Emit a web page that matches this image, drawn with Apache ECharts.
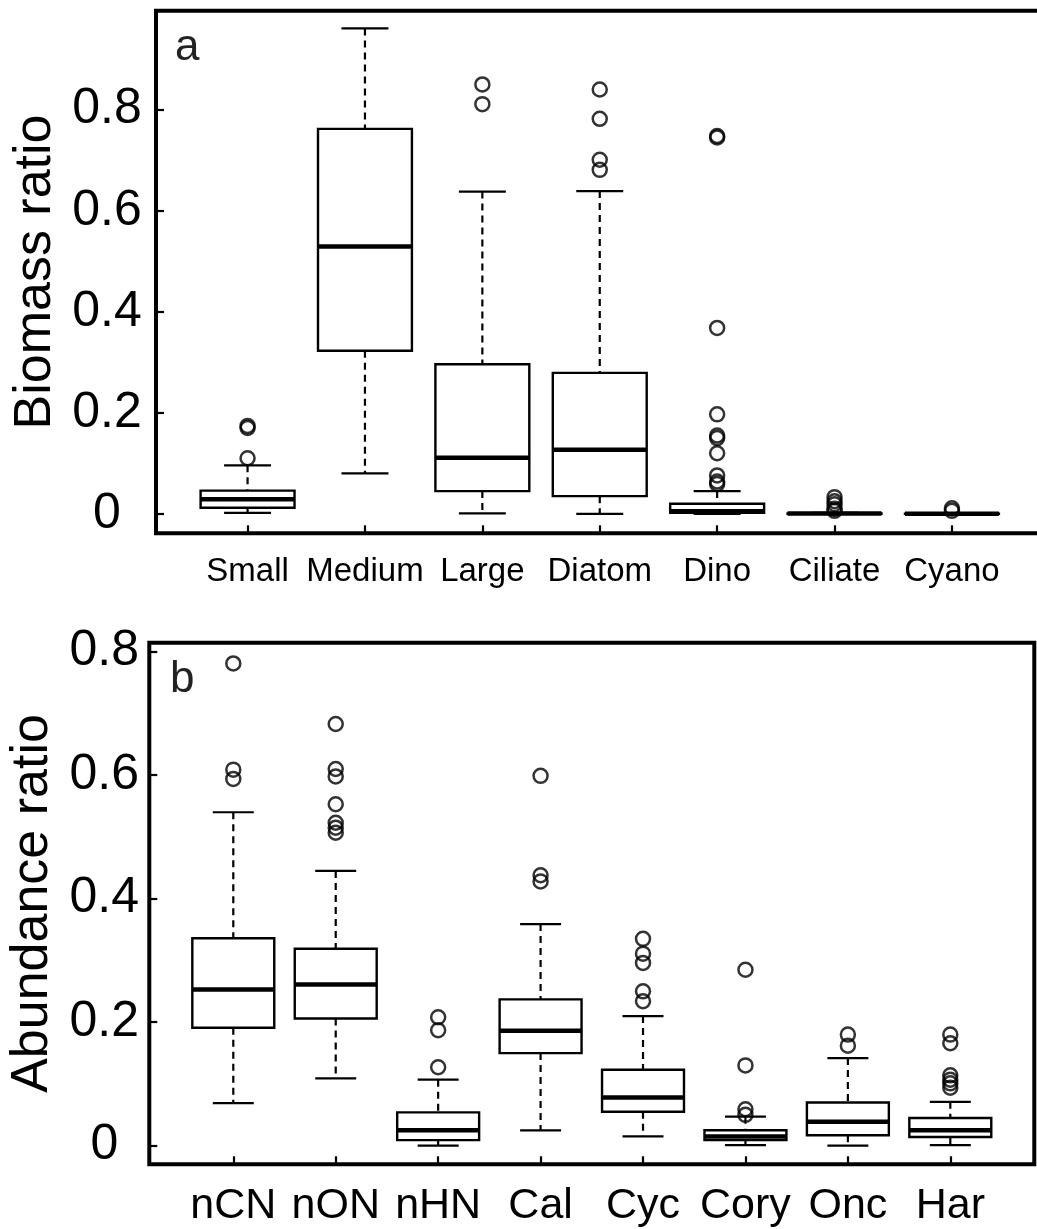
<!DOCTYPE html>
<html>
<head>
<meta charset="utf-8">
<script src="https://cdn.jsdelivr.net/npm/echarts@6/dist/echarts.min.js"></script>
<style>
html,body{margin:0;padding:0;background:#fff;}
#chart{width:1037px;height:1229px;}
</style>
</head>
<body>
<div id="chart"></div>
<script>
// panel a: biomass ratio
var groupsA = ['Small', 'Medium', 'Large', 'Diatom', 'Dino', 'Ciliate', 'Cyano'];
// [min whisker, Q1, median, Q3, max whisker]
var statsA = [
  [0.002, 0.012, 0.029, 0.046, 0.096],
  [0.080, 0.323, 0.529, 0.762, 0.961],
  [0.001, 0.045, 0.111, 0.296, 0.638],
  [0.000, 0.035, 0.127, 0.279, 0.639],
  [0.000, 0.002, 0.005, 0.020, 0.045],
  [0.000, 0.000, 0.0005, 0.001, 0.002],
  [0.000, 0.000, 0.000, 0.0005, 0.001]
];
var outliersA = [
  [0.110, 0.170, 0.174],
  [],
  [0.850, 0.811],
  [0.840, 0.782, 0.701, 0.681],
  [0.748, 0.745, 0.368, 0.197, 0.155, 0.150, 0.120, 0.076, 0.064, 0.059],
  [0.033, 0.025, 0.019, 0.010, 0.006],
  [0.011, 0.006]
];

// panel b: abundance ratio
var groupsB = ['nCN', 'nON', 'nHN', 'Cal', 'Cyc', 'Cory', 'Onc', 'Har'];
var statsB = [
  [0.069, 0.191, 0.253, 0.336, 0.540],
  [0.109, 0.206, 0.261, 0.319, 0.445],
  [0.000, 0.009, 0.025, 0.054, 0.107],
  [0.025, 0.150, 0.186, 0.237, 0.359],
  [0.015, 0.055, 0.078, 0.123, 0.210],
  [0.001, 0.009, 0.015, 0.025, 0.047],
  [0.000, 0.017, 0.039, 0.070, 0.142],
  [0.001, 0.014, 0.025, 0.045, 0.071]
];
var outliersB = [
  [0.781, 0.609, 0.594],
  [0.683, 0.610, 0.598, 0.553, 0.523, 0.515, 0.507],
  [0.208, 0.187, 0.127],
  [0.599, 0.438, 0.428],
  [0.335, 0.311, 0.296, 0.250, 0.234],
  [0.285, 0.130, 0.059, 0.050],
  [0.180, 0.162],
  [0.180, 0.166, 0.114, 0.107, 0.101, 0.094]
];

var yTicks = [0, 0.2, 0.4, 0.6, 0.8];

var FONT = 'Liberation Sans, Arial, Helvetica, sans-serif';

function boxData(stats) {
  return stats.map(function (s, i) { return [i + 1].concat(s); });
}
function pointData(outs) {
  var pts = [];
  outs.forEach(function (list, i) {
    list.forEach(function (v) { pts.push([i + 1, v]); });
  });
  return pts;
}
function positions(n) {
  var p = [];
  for (var i = 1; i <= n; i++) p.push(i);
  return p;
}

// R style box: dashed whiskers, half-width staples, thick median
function renderBox(params, api) {
  var x = api.value(0);
  var lo = api.coord([x, api.value(1)]);
  var q1 = api.coord([x, api.value(2)]);
  var md = api.coord([x, api.value(3)]);
  var q3 = api.coord([x, api.value(4)]);
  var hi = api.coord([x, api.value(5)]);
  var w = api.size([0.8, 0])[0];
  var cx = lo[0];
  var solid = {stroke: '#000', lineWidth: 2.2, fill: null};
  var dashed = {stroke: '#000', lineWidth: 2.2, lineDash: [7, 5], fill: null};
  return {
    type: 'group',
    children: [
      {type: 'line', shape: {x1: cx, y1: hi[1], x2: cx, y2: q3[1]}, style: dashed},
      {type: 'line', shape: {x1: cx, y1: q1[1], x2: cx, y2: lo[1]}, style: dashed},
      {type: 'line', shape: {x1: cx - w / 4, y1: hi[1], x2: cx + w / 4, y2: hi[1]}, style: solid},
      {type: 'line', shape: {x1: cx - w / 4, y1: lo[1], x2: cx + w / 4, y2: lo[1]}, style: solid},
      {type: 'rect', shape: {x: cx - w / 2, y: q3[1], width: w, height: q1[1] - q3[1]},
        style: {stroke: '#000', lineWidth: 2.4, fill: '#fff'}},
      {type: 'line', shape: {x1: cx - w / 2, y1: md[1], x2: cx + w / 2, y2: md[1]},
        style: {stroke: '#000', lineWidth: 4.5}}
    ]
  };
}

function xAxisFor(idx, groups, min, max, fontSize, margin) {
  return {
    gridIndex: idx,
    type: 'value',
    min: min,
    max: max,
    splitLine: {show: false},
    axisLine: {show: false, onZero: false},
    axisTick: {show: true, inside: true, length: 8, customValues: positions(groups.length),
      lineStyle: {color: '#000', width: 2.2}},
    axisLabel: {customValues: positions(groups.length), color: '#000', fontSize: fontSize,
      fontFamily: FONT, margin: margin,
      formatter: function (v) { return groups[Math.round(v) - 1]; }}
  };
}

function yAxisFor(idx, name, min, max, labelMargin, nameGap) {
  return {
    gridIndex: idx,
    type: 'value',
    min: min,
    max: max,
    name: name,
    nameLocation: 'middle',
    nameGap: nameGap,
    nameTextStyle: {fontSize: 52, color: '#000', fontFamily: FONT},
    splitLine: {show: false},
    axisLine: {show: false, onZero: false},
    axisTick: {show: true, inside: true, length: 8, customValues: yTicks,
      lineStyle: {color: '#000', width: 2.2}},
    axisLabel: {customValues: yTicks, color: '#000', fontSize: 50, fontFamily: FONT,
      align: 'center', margin: labelMargin,
      formatter: function (v) { return v === 0 ? '0' : v.toFixed(1); }}
  };
}

var myChart = echarts.init(document.getElementById('chart'), null, {renderer: 'canvas'});

var option = {
  animation: false,
  backgroundColor: '#fff',
  title: [
    {text: 'a', left: 175, top: 26, padding: 0,
      textStyle: {fontSize: 44, fontWeight: 'normal', color: '#222', fontFamily: FONT}},
    {text: 'b', left: 170, top: 658, padding: 0,
      textStyle: {fontSize: 44, fontWeight: 'normal', color: '#222', fontFamily: FONT}}
  ],
  grid: [
    {left: 156, width: 887.5, top: 10.7, height: 522.6, show: true, outerBoundsMode: 'none',
      containLabel: false, borderColor: '#000', borderWidth: 4, backgroundColor: 'transparent'},
    {left: 149.3, width: 885, top: 642.7, height: 521.6, show: true, outerBoundsMode: 'none',
      containLabel: false, borderColor: '#000', borderWidth: 4, backgroundColor: 'transparent'}
  ],
  xAxis: [
    xAxisFor(0, groupsA, 0.22, 7.78, 33, 22),
    xAxisFor(1, groupsB, 0.18, 8.82, 43, 20)
  ],
  yAxis: [
    yAxisFor(0, 'Biomass ratio', -0.0385, 0.996, 49, 92),
    yAxisFor(1, 'Abundance ratio', -0.0301, 0.8146, 45, 88)
  ],
  series: [
    {type: 'custom', xAxisIndex: 0, yAxisIndex: 0, renderItem: renderBox,
      encode: {x: 0, y: [1, 2, 3, 4, 5]}, data: boxData(statsA), silent: true},
    {type: 'scatter', xAxisIndex: 0, yAxisIndex: 0, data: pointData(outliersA),
      symbol: 'circle', symbolSize: 14,
      itemStyle: {color: 'rgba(0,0,0,0)', borderColor: '#000', borderWidth: 2.5}},
    {type: 'custom', xAxisIndex: 1, yAxisIndex: 1, renderItem: renderBox,
      encode: {x: 0, y: [1, 2, 3, 4, 5]}, data: boxData(statsB), silent: true},
    {type: 'scatter', xAxisIndex: 1, yAxisIndex: 1, data: pointData(outliersB),
      symbol: 'circle', symbolSize: 14,
      itemStyle: {color: 'rgba(0,0,0,0)', borderColor: '#000', borderWidth: 2.5}}
  ]
};
myChart.setOption(option);
</script>
</body>
</html>
